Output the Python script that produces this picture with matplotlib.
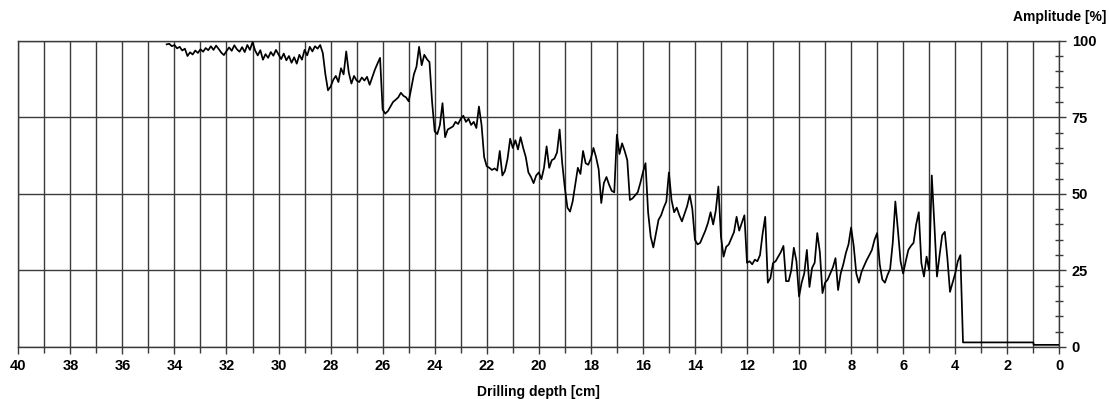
import numpy as np
import matplotlib
matplotlib.use("Agg")
import matplotlib.pyplot as plt
from matplotlib.ticker import MultipleLocator

plt.rcParams['font.family'] = ['Liberation Sans', 'DejaVu Sans']

# Sampled trace: depth grid 34.3 -> 3.8 cm, step 0.1 cm
trace_start, trace_end, trace_step = 34.3, 3.8, 0.1
amplitude = [
    98.8, 99.0, 98.2,
    98.6, 97.5, 98.0, 96.8, 97.4, 95.0, 96.2, 95.5, 96.8, 96.0,
    97.2, 96.4, 97.6, 96.9, 98.2, 97.0, 98.4, 97.3, 96.1, 95.3,
    96.6, 97.8, 96.7, 98.5, 97.2, 96.4, 97.9, 96.3, 98.6, 97.0,
    99.5, 96.8, 95.2, 96.9, 93.8, 95.6, 94.4, 96.3, 95.1, 97.0,
    95.5, 94.0, 95.8, 93.6, 95.0, 92.8, 94.6, 92.5, 95.4, 93.8,
    97.0, 95.2, 98.0, 96.5, 98.2, 97.4, 98.6, 96.0, 89.0, 83.8,
    85.0, 87.2, 88.5, 86.5, 91.0, 89.0, 96.5, 89.5, 86.0, 88.5,
    87.0, 86.5, 88.0, 87.0, 88.2, 85.6, 88.0, 90.5, 92.5, 94.4,
    77.5, 76.2, 77.0, 78.5, 80.0, 80.7, 81.5, 83.0, 82.0, 81.5,
    80.2, 84.5, 89.0, 91.5, 98.0, 92.0, 95.4, 94.0, 93.0, 80.0,
    70.4, 69.5, 72.5, 79.6, 68.5, 71.0, 71.5, 72.0, 73.5, 72.8,
    74.5, 75.5, 73.5, 74.5, 72.5, 73.5, 71.5, 78.5, 72.5, 62.0,
    59.0, 58.5, 57.8, 58.3, 57.6, 64.0, 56.0, 57.5, 61.5, 68.0,
    65.0, 67.5, 64.5, 68.5, 65.0, 62.0, 57.0, 55.5, 53.5, 56.0,
    57.0, 54.8, 58.5, 65.5, 58.5, 61.0, 61.5, 63.5, 71.0, 60.0,
    52.0, 45.5, 44.2, 47.5, 53.0, 58.5, 56.5, 64.0, 60.0, 59.5,
    61.5, 65.0, 62.0, 58.0, 47.0, 53.5, 55.5, 53.0, 51.0, 50.5,
    69.3, 63.0, 66.5, 64.0, 61.0, 48.0, 48.5, 49.5, 50.5, 53.5,
    57.0, 60.0, 44.0, 36.0, 32.5, 37.0, 41.5, 43.0, 45.5, 47.5,
    57.0, 48.0, 44.0, 45.5, 43.0, 41.0, 43.5, 46.0, 49.7, 45.0,
    35.0, 33.5, 34.0, 36.0, 38.0, 40.5, 44.0, 40.0, 44.5, 52.4,
    36.0, 29.5, 32.7, 33.5, 35.5, 37.5, 42.5, 38.0, 40.5, 43.0,
    27.5, 28.0, 27.0, 28.5, 28.0, 30.0, 37.0, 42.5, 21.0, 22.5,
    27.4, 28.0, 29.5, 31.0, 33.0, 21.5, 21.5, 25.0, 32.4, 28.0,
    16.5, 21.0, 24.0, 31.7, 19.6, 25.8, 27.5, 37.2, 31.0, 17.6,
    21.0, 22.0, 24.0, 26.0, 29.0, 18.6, 24.0, 27.0, 30.7, 33.5,
    39.0, 33.0, 24.0, 21.0, 24.5, 26.5, 28.4, 30.0, 31.7, 35.0,
    37.2, 27.0, 22.0, 21.0, 23.5, 25.5, 34.0, 47.5, 38.0, 28.0,
    24.0, 28.0, 31.7, 33.0, 34.0, 40.0, 44.0, 27.4, 23.0, 29.5,
    25.0, 56.0, 40.0, 23.0, 30.0, 36.5, 37.6, 29.0, 18.0, 21.0,
    24.0, 28.0, 30.0,
]
# Flat tail after the drill exits
tail_depth = [3.7, 1.0, 0.98, 0.0]
tail_amp = [1.5, 1.5, 0.7, 0.7]

x_ticks = [40, 38, 36, 34, 32, 30, 28, 26, 24, 22, 20, 18, 16, 14, 12, 10, 8, 6, 4, 2, 0]
y_ticks = [0, 25, 50, 75, 100]

n = len(amplitude)
depth = np.round(trace_start - trace_step * np.arange(n), 2)
all_depth = np.concatenate([depth, tail_depth])
all_amp = np.concatenate([amplitude, tail_amp])

fig = plt.figure(figsize=(11.09, 3.99), dpi=100)
ax = fig.add_axes([18.3 / 1109, 52 / 399, (1059.3 - 18.3) / 1109, (347 - 40.7) / 399])

ax.plot(all_depth, all_amp, color='black', lw=1.25, zorder=3)

ax.set_xlim(40, 0)
ax.set_ylim(0, 100)
ax.set_xticks(x_ticks)
ax.xaxis.set_minor_locator(MultipleLocator(1))
ax.set_yticks(y_ticks)
ax.yaxis.set_minor_locator(MultipleLocator(5))
ax.yaxis.tick_right()
ax.yaxis.set_label_position('right')

grid_kw = dict(color='#3a3a3a', lw=1.0)
ax.grid(True, which='major', axis='both', **grid_kw)
ax.grid(True, which='minor', axis='x', **grid_kw)

for s in ax.spines.values():
    s.set_color('#3a3a3a')
    s.set_linewidth(1.0)

ax.tick_params(axis='x', which='major', direction='out', length=5, width=1, color='#3a3a3a', pad=4)
ax.tick_params(axis='x', which='minor', direction='out', length=4, width=1, color='#3a3a3a')
ax.tick_params(axis='y', which='major', direction='out', length=5, width=1, color='#3a3a3a', pad=4,
               right=True, left=False)
ax.tick_params(axis='y', which='minor', direction='inout', length=6, width=1, color='#3a3a3a',
               right=True, left=False)

for lab in ax.get_xticklabels() + ax.get_yticklabels():
    lab.set_fontsize(10.5)
    lab.set_fontweight('bold')

ax.set_xlabel('Drilling depth [cm]', fontsize=10, fontweight='bold', labelpad=8)
fig.text(1106 / 1109, 1 - 17 / 399, 'Amplitude [%]', ha='right', va='center',
         fontsize=10, fontweight='bold')

fig.savefig('out.png', dpi=100)
